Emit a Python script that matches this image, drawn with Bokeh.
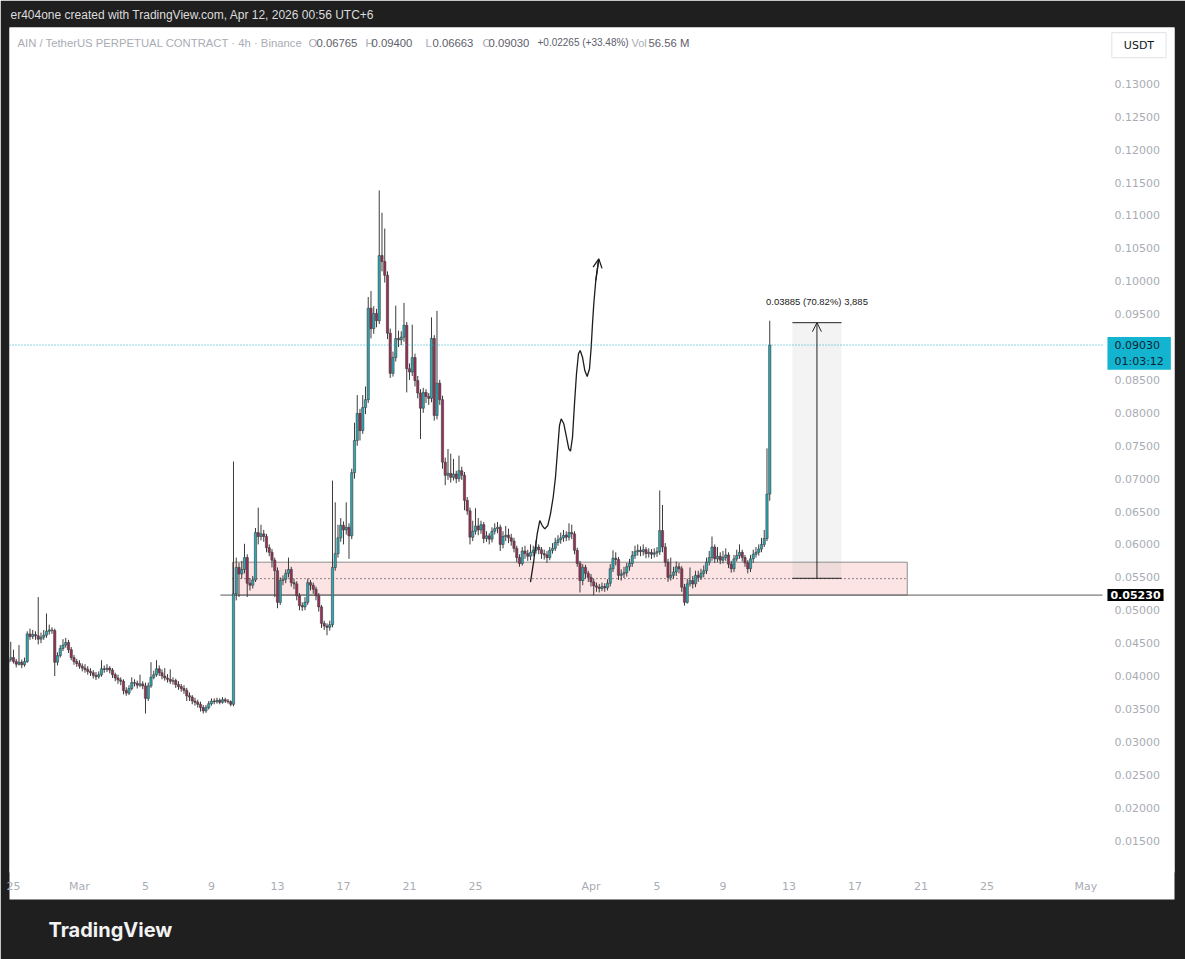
import pandas as pd
from bokeh.plotting import figure
from bokeh.models import (ColumnDataSource, Range1d, FixedTicker, PrintfTickFormatter,
                          Label, Title, Arrow, OpenHead)
from bokeh.embed import file_html
from bokeh.resources import INLINE

# ---------------- data ----------------
FIRST_CANDLE = "2026-02-24 16:00"   # 4h candles
ORIGIN = "2026-03-01 00:00"         # x axis unit: days since this moment
first_open = 0.0421
close = [
    0.0425, 0.0428, 0.0422, 0.0418, 0.0421, 0.0417, 0.0422, 0.0464, 0.0460, 0.0463,
    0.0461, 0.0456, 0.0459, 0.0462, 0.0468, 0.0470, 0.0469, 0.0421, 0.0431, 0.0442,
    0.0447, 0.0451, 0.0440, 0.0428, 0.0422, 0.0419, 0.0415, 0.0412, 0.0410, 0.0407,
    0.0405, 0.0401, 0.0399, 0.0402, 0.0411, 0.0410, 0.0412, 0.0409, 0.0402, 0.0397,
    0.0394, 0.0392, 0.0378, 0.0374, 0.0381, 0.0390, 0.0389, 0.0386, 0.0388, 0.0385,
    0.0366, 0.0385, 0.0398, 0.0402, 0.0411, 0.0405, 0.0400, 0.0397, 0.0395, 0.0392,
    0.0393, 0.0387, 0.0384, 0.0381, 0.0378, 0.0370, 0.0368, 0.0362, 0.0360, 0.0357,
    0.0352, 0.0347, 0.0352, 0.0358, 0.0362, 0.0361, 0.0363, 0.0360, 0.0364, 0.0362,
    0.0361, 0.0357, 0.0525, 0.0565, 0.0555, 0.0562, 0.0580, 0.0541, 0.0538, 0.0546,
    0.0618, 0.0612, 0.0616, 0.0612, 0.0595, 0.0588, 0.0576, 0.0560, 0.0512, 0.0545,
    0.0547, 0.0556, 0.0562, 0.0542, 0.0540, 0.0522, 0.0507, 0.0505, 0.0512, 0.0542,
    0.0538, 0.0532, 0.0522, 0.0505, 0.0480, 0.0476, 0.0474, 0.0478, 0.0565, 0.0586,
    0.0610, 0.0629, 0.0622, 0.0626, 0.0613, 0.0709, 0.0758, 0.0799, 0.0773, 0.0808,
    0.0820, 0.0959, 0.0928, 0.0951, 0.0940, 0.1039, 0.1030, 0.1009, 0.0921, 0.0860,
    0.0884, 0.0913, 0.0911, 0.0915, 0.0933, 0.0867, 0.0862, 0.0884, 0.0849, 0.0830,
    0.0807, 0.0831, 0.0825, 0.0822, 0.0913, 0.0796, 0.0845, 0.0820, 0.0725, 0.0705,
    0.0708, 0.0702, 0.0707, 0.0700, 0.0712, 0.0705, 0.0667, 0.0651, 0.0611, 0.0620,
    0.0628, 0.0622, 0.0630, 0.0609, 0.0613, 0.0608, 0.0620, 0.0624, 0.0626, 0.0600,
    0.0612, 0.0614, 0.0610, 0.0605, 0.0594, 0.0580, 0.0571, 0.0590, 0.0586, 0.0582,
    0.0588, 0.0591, 0.0596, 0.0592, 0.0586, 0.0584, 0.0580, 0.0591, 0.0594, 0.0603,
    0.0607, 0.0610, 0.0614, 0.0611, 0.0618, 0.0616, 0.0591, 0.0571, 0.0545, 0.0565,
    0.0556, 0.0550, 0.0543, 0.0537, 0.0535, 0.0533, 0.0536, 0.0534, 0.0541, 0.0563,
    0.0579, 0.0577, 0.0553, 0.0555, 0.0557, 0.0566, 0.0571, 0.0583, 0.0589, 0.0591,
    0.0589, 0.0592, 0.0586, 0.0588, 0.0585, 0.0587, 0.0589, 0.0621, 0.0596, 0.0573,
    0.0550, 0.0553, 0.0558, 0.0566, 0.0563, 0.0535, 0.0512, 0.0540, 0.0545, 0.0540,
    0.0553, 0.0550, 0.0556, 0.0560, 0.0573, 0.0580, 0.0596, 0.0578, 0.0582, 0.0576,
    0.0580, 0.0584, 0.0570, 0.0563, 0.0578, 0.0583, 0.0588, 0.0580, 0.0572, 0.0563,
    0.0578, 0.0585, 0.0588, 0.0593, 0.0600, 0.0609, 0.06765, 0.0903,
]
high = [
    0.0432, 0.0452, 0.0440, 0.0426, 0.0447, 0.0425, 0.0428, 0.0468, 0.0472, 0.0470,
    0.0468, 0.0520, 0.0466, 0.0470, 0.0495, 0.0478, 0.0474, 0.0472, 0.0436, 0.0447,
    0.0456, 0.0458, 0.0455, 0.0444, 0.0432, 0.0426, 0.0424, 0.0419, 0.0418, 0.0415,
    0.0412, 0.0409, 0.0406, 0.0407, 0.0424, 0.0416, 0.0418, 0.0415, 0.0412, 0.0405,
    0.0402, 0.0398, 0.0395, 0.0383, 0.0386, 0.0398, 0.0395, 0.0393, 0.0402, 0.0392,
    0.0390, 0.0390, 0.0421, 0.0408, 0.0424, 0.0416, 0.0410, 0.0412, 0.0403, 0.0410,
    0.0398, 0.0396, 0.0392, 0.0388, 0.0386, 0.0382, 0.0375, 0.0371, 0.0367, 0.0364,
    0.0361, 0.0356, 0.0356, 0.0362, 0.0366, 0.0366, 0.0367, 0.0366, 0.0368, 0.0367,
    0.0365, 0.0363, 0.0726, 0.0580, 0.0572, 0.0575, 0.0601, 0.0585, 0.0549, 0.0552,
    0.0625, 0.0656, 0.0630, 0.0622, 0.0616, 0.0600, 0.0593, 0.0580, 0.0565, 0.0550,
    0.0553, 0.0562, 0.0580, 0.0566, 0.0548, 0.0544, 0.0526, 0.0512, 0.0520, 0.0548,
    0.0546, 0.0542, 0.0536, 0.0526, 0.0508, 0.0484, 0.0480, 0.0484, 0.0697, 0.0664,
    0.0630, 0.0640, 0.0635, 0.0664, 0.0632, 0.0715, 0.0785, 0.0827, 0.0806, 0.0827,
    0.0840, 0.0976, 0.0985, 0.0962, 0.0958, 0.1138, 0.1104, 0.1080, 0.1015, 0.0928,
    0.0893, 0.0963, 0.0925, 0.0924, 0.0967, 0.0938, 0.0875, 0.0934, 0.0890, 0.0856,
    0.0836, 0.0838, 0.0836, 0.0830, 0.0945, 0.0918, 0.0955, 0.0850, 0.0826, 0.0732,
    0.0745, 0.0738, 0.0730, 0.0712, 0.0735, 0.0718, 0.0710, 0.0672, 0.0656, 0.0636,
    0.0655, 0.0640, 0.0636, 0.0634, 0.0620, 0.0617, 0.0626, 0.0632, 0.0634, 0.0630,
    0.0620, 0.0628, 0.0624, 0.0616, 0.0610, 0.0598, 0.0585, 0.0596, 0.0598, 0.0592,
    0.0600, 0.0598, 0.0606, 0.0600, 0.0596, 0.0592, 0.0590, 0.0596, 0.0602, 0.0610,
    0.0614, 0.0618, 0.0622, 0.0620, 0.0632, 0.0630, 0.0620, 0.0595, 0.0575, 0.0570,
    0.0569, 0.0560, 0.0555, 0.0548, 0.0542, 0.0540, 0.0542, 0.0541, 0.0547, 0.0570,
    0.0591, 0.0588, 0.0581, 0.0562, 0.0566, 0.0572, 0.0578, 0.0590, 0.0598, 0.0600,
    0.0597, 0.0600, 0.0596, 0.0594, 0.0593, 0.0594, 0.0596, 0.0682, 0.0660, 0.0602,
    0.0578, 0.0580, 0.0566, 0.0574, 0.0572, 0.0567, 0.0540, 0.0548, 0.0565, 0.0552,
    0.0560, 0.0560, 0.0563, 0.0568, 0.0580, 0.0590, 0.0612, 0.0600, 0.0596, 0.0588,
    0.0590, 0.0594, 0.0588, 0.0575, 0.0584, 0.0592, 0.0600, 0.0592, 0.0584, 0.0576,
    0.0584, 0.0592, 0.0596, 0.0600, 0.0610, 0.0622, 0.0746, 0.0940,
]
low = [
    0.0418, 0.0422, 0.0419, 0.0413, 0.0416, 0.0412, 0.0414, 0.0420, 0.0455, 0.0456,
    0.0455, 0.0448, 0.0450, 0.0455, 0.0458, 0.0463, 0.0464, 0.0400, 0.0416, 0.0428,
    0.0438, 0.0443, 0.0435, 0.0424, 0.0417, 0.0414, 0.0411, 0.0407, 0.0405, 0.0402,
    0.0400, 0.0396, 0.0394, 0.0396, 0.0399, 0.0405, 0.0406, 0.0404, 0.0397, 0.0392,
    0.0388, 0.0386, 0.0372, 0.0370, 0.0371, 0.0378, 0.0384, 0.0381, 0.0383, 0.0380,
    0.0343, 0.0362, 0.0382, 0.0395, 0.0399, 0.0400, 0.0395, 0.0393, 0.0390, 0.0388,
    0.0387, 0.0382, 0.0379, 0.0376, 0.0373, 0.0362, 0.0362, 0.0357, 0.0355, 0.0352,
    0.0346, 0.0343, 0.0344, 0.0349, 0.0355, 0.0357, 0.0358, 0.0357, 0.0358, 0.0359,
    0.0358, 0.0354, 0.0354, 0.0515, 0.0520, 0.0548, 0.0556, 0.0520, 0.0530, 0.0533,
    0.0543, 0.0600, 0.0606, 0.0604, 0.0588, 0.0582, 0.0565, 0.0520, 0.0503, 0.0508,
    0.0538, 0.0541, 0.0550, 0.0536, 0.0532, 0.0515, 0.0500, 0.0499, 0.0500, 0.0508,
    0.0530, 0.0525, 0.0515, 0.0498, 0.0473, 0.0470, 0.0462, 0.0469, 0.0474, 0.0560,
    0.0580, 0.0604, 0.0600, 0.0615, 0.0578, 0.0608, 0.0700, 0.0750, 0.0758, 0.0768,
    0.0798, 0.0815, 0.0913, 0.0920, 0.0930, 0.0935, 0.1015, 0.0998, 0.0912, 0.0853,
    0.0855, 0.0878, 0.0900, 0.0903, 0.0908, 0.0831, 0.0850, 0.0856, 0.0840, 0.0822,
    0.0760, 0.0800, 0.0815, 0.0812, 0.0816, 0.0788, 0.0790, 0.0812, 0.0715, 0.0690,
    0.0698, 0.0694, 0.0697, 0.0693, 0.0695, 0.0698, 0.0652, 0.0645, 0.0600, 0.0605,
    0.0615, 0.0614, 0.0616, 0.0602, 0.0604, 0.0600, 0.0603, 0.0615, 0.0617, 0.0590,
    0.0594, 0.0605, 0.0602, 0.0598, 0.0588, 0.0573, 0.0566, 0.0568, 0.0578, 0.0575,
    0.0576, 0.0582, 0.0586, 0.0585, 0.0578, 0.0577, 0.0572, 0.0576, 0.0586, 0.0590,
    0.0598, 0.0601, 0.0604, 0.0605, 0.0606, 0.0608, 0.0585, 0.0566, 0.0527, 0.0538,
    0.0548, 0.0543, 0.0536, 0.0523, 0.0528, 0.0527, 0.0529, 0.0528, 0.0530, 0.0536,
    0.0558, 0.0568, 0.0546, 0.0545, 0.0549, 0.0551, 0.0560, 0.0566, 0.0578, 0.0583,
    0.0582, 0.0583, 0.0579, 0.0580, 0.0578, 0.0580, 0.0581, 0.0584, 0.0588, 0.0566,
    0.0543, 0.0545, 0.0548, 0.0552, 0.0556, 0.0528, 0.0507, 0.0510, 0.0536, 0.0533,
    0.0535, 0.0543, 0.0546, 0.0550, 0.0555, 0.0568, 0.0575, 0.0572, 0.0573, 0.0570,
    0.0571, 0.0575, 0.0564, 0.0557, 0.0558, 0.0574, 0.0578, 0.0574, 0.0566, 0.0556,
    0.0558, 0.0572, 0.0580, 0.0583, 0.0588, 0.0596, 0.0605, 0.06663,
]

# axis ticks
y_ticks = [0.015, 0.020, 0.025, 0.030, 0.035, 0.040, 0.045, 0.050, 0.055, 0.060,
           0.065, 0.070, 0.075, 0.080, 0.085, 0.095, 0.100, 0.105, 0.110,
           0.115, 0.120, 0.125, 0.130]
x_tick_dates = ["2026-02-25", "2026-03-01", "2026-03-05", "2026-03-09", "2026-03-13",
                "2026-03-17", "2026-03-21", "2026-03-25", "2026-04-01", "2026-04-05",
                "2026-04-09", "2026-04-13", "2026-04-17", "2026-04-21", "2026-04-25",
                "2026-05-01"]
x_tick_labels = ["25", "Mar", "5", "9", "13", "17", "21", "25", "Apr", "5", "9", "13",
                 "17", "21", "25", "May"]

# header / price tags
title_text = "er404one created with TradingView.com, Apr 12, 2026 00:56 UTC+6"
symbol_text = "AIN / TetherUS PERPETUAL CONTRACT · 4h · Binance"
ohlc_keys = ["O", "H", "L", "C"]
ohlc_vals = ["0.06765", "0.09400", "0.06663", "0.09030"]
change_text = "+0.02265 (+33.48%)"
vol_key, vol_val = "Vol", "56.56 M"
currency = "USDT"
last_price = 0.0903
countdown = "01:03:12"
level_price = 0.0523
level_start = "2026-03-09 13:00"

# support zone drawing
zone_start, zone_end = "2026-03-10 06:30", "2026-04-20 04:00"
zone_low, zone_high = 0.0523, 0.0573

# price-range measurement drawing
meas_start, meas_end = "2026-04-13 05:00", "2026-04-16 04:20"
meas_low, meas_high = 0.05485, 0.0937
meas_text = "0.03885 (70.82%) 3,885"

# hand-drawn projection path (days since ORIGIN, price)
path_day = [27.333, 27.533, 27.739, 27.897, 28.042, 28.200, 28.382, 28.545, 28.709,
            28.848, 28.988, 29.091, 29.194, 29.352, 29.515, 29.655, 29.758, 29.879,
            30.000, 30.121, 30.242, 30.345, 30.485, 30.624, 30.770, 30.909, 31.012,
            31.091, 31.170, 31.291, 31.473]
path_price = [0.05426, 0.05755, 0.06161, 0.06363, 0.06287, 0.06237, 0.06287, 0.06465,
              0.06717, 0.07021, 0.07477, 0.07807, 0.07909, 0.07833, 0.07629, 0.07453,
              0.07416, 0.07629, 0.08137, 0.08593, 0.08897, 0.08947, 0.08845, 0.08643,
              0.08552, 0.08669, 0.08997, 0.09353, 0.09657, 0.10011, 0.10340]

# ---------------- helpers ----------------
T0 = pd.Timestamp(ORIGIN)


def d(ts):
    return (pd.Timestamp(ts) - T0) / pd.Timedelta(days=1)


times = pd.date_range(FIRST_CANDLE, periods=len(close), freq="4h")
xday = [d(t) for t in times]
opens = [first_open] + close[:-1]
UP_FILL, DN_FILL, EDGE = "#28aab7", "#9a2d55", "#3c3c3c"
fills = [UP_FILL if c >= o else DN_FILL for o, c in zip(opens, close)]
src = ColumnDataSource(dict(x=xday, open=opens, close=close, high=high, low=low, fill=fills))

X0, X1 = -4.242, 66.364          # visible time window (days since ORIGIN)
SCALE_X = 62.0                   # where the price scale column starts
TAG_X = 62.30                    # left edge of the price tags
DARK = "#1f1f1f"

# ---------------- figure ----------------
p = figure(width=1185, height=959, output_backend="svg", toolbar_location=None,
           x_range=Range1d(X0, X1), y_range=Range1d(0.01029, 0.13856),
           y_axis_location="right", min_border_left=9, min_border_right=11,
           min_border_top=27, min_border_bottom=88)
p.background_fill_color = "white"
p.border_fill_color = DARK
p.outline_line_color = None
p.grid.visible = False

p.title.text = title_text
p.title.text_font = "Liberation Sans"
p.title.text_font_size = "12px"
p.title.text_font_style = "normal"
p.title.text_color = "#dcdcdc"
p.title.align = "left"
p.title.offset = 1
p.title.standoff = 11

AX_COLOR = "#a9acb4"
for ax in (p.xaxis[0], p.yaxis[0]):
    ax.major_tick_line_color = None
    ax.minor_tick_line_color = None
    ax.major_tick_out = 0
    ax.minor_tick_out = 0
    ax.major_tick_in = 0
    ax.minor_tick_in = 0
    ax.major_label_text_font = "DejaVu Sans"
    ax.major_label_text_font_size = "11px"
    ax.major_label_text_color = AX_COLOR

# price scale drawn inside the right-hand column of the white panel
p.yaxis.axis_line_color = None
p.yaxis.ticker = FixedTicker(ticks=y_ticks)
p.yaxis.formatter = PrintfTickFormatter(format="%.5f")
p.yaxis.major_label_standoff = -60

x_tick_days = [int(round(d(t))) for t in x_tick_dates]
p.xaxis.ticker = FixedTicker(ticks=x_tick_days)
p.xaxis.major_label_overrides = {k: v for k, v in zip(x_tick_days, x_tick_labels)}
p.xaxis.major_label_standoff = 8
p.xaxis.axis_line_color = "white"
p.xaxis.axis_line_width = 2
p.xaxis.background_fill_color = "white"
p.xaxis.axis_label = " "
p.xaxis.axis_label_text_font_size = "1px"
p.xaxis.axis_label_standoff = 0

p.add_layout(Title(text="TradingView", align="left", offset=39, standoff=33,
                   text_font="Inter", text_font_size="20px", text_font_style="bold",
                   text_color="#f2f2f2"), "below")

# support zone
p.quad(left=[d(zone_start)], right=[d(zone_end)], bottom=[zone_low], top=[zone_high],
       fill_color="#f9c9c9", fill_alpha=0.5, line_color="#8d8d8d", line_width=1)
p.segment(x0=[d(zone_start)], x1=[d(zone_end)], y0=[(zone_low + zone_high) / 2],
          y1=[(zone_low + zone_high) / 2], line_color="#222222", line_dash="1 3", line_width=1)
p.segment(x0=[d(level_start)], x1=[SCALE_X], y0=[level_price], y1=[level_price],
          line_color="#5a5a5a", line_width=1)

# candles
p.segment(x0="x", y0="low", x1="x", y1="high", source=src, line_color=EDGE, line_width=1)
p.vbar(x="x", width=0.82 / 6, top="open", bottom="close", source=src,
       fill_color="fill", line_color=EDGE, line_width=0.6)

# measurement
p.quad(left=[d(meas_start)], right=[d(meas_end)], bottom=[meas_low], top=[meas_high],
       fill_color="#9e9e9e", fill_alpha=0.12, line_color=None)
p.segment(x0=[d(meas_start)] * 2, x1=[d(meas_end)] * 2, y0=[meas_low, meas_high],
          y1=[meas_low, meas_high], line_color="#222222", line_width=1)
mid = (d(meas_start) + d(meas_end)) / 2
p.add_layout(Arrow(end=OpenHead(size=9, line_color="#222222", line_width=1),
                   x_start=mid, y_start=meas_low, x_end=mid, y_end=meas_high,
                   line_color="#222222", line_width=1))
p.add_layout(Label(x=mid, y=meas_high, y_offset=21, text=meas_text, text_align="center",
                   text_baseline="middle", text_font="Liberation Sans",
                   text_font_size="9.5px", text_color="#222222"))

# hand-drawn path
p.line(path_day, path_price, line_color="#1c1c1c", line_width=1.3)
p.add_layout(Arrow(end=OpenHead(size=9, line_color="#1c1c1c", line_width=1.3),
                   x_start=path_day[-2], y_start=path_price[-2],
                   x_end=path_day[-1], y_end=path_price[-1],
                   line_color="#1c1c1c", line_width=1.3))

# last price line
p.segment(x0=[X0], x1=[SCALE_X], y0=[last_price], y1=[last_price], line_color="#1ba9c4",
          line_dash="1 2", line_width=1)

# header inside the chart
HEAD_Y = 0.13628
KEY_C, VAL_C = "#a9acb4", "#5d606b"
head = [(-3.758, symbol_text, KEY_C, "11.3px")]
key_x = [13.879, 17.333, 20.970, 24.424]
val_x = [14.364, 17.697, 21.394, 24.788]
for k, kx, v, vx in zip(ohlc_keys, key_x, ohlc_vals, val_x):
    head.append((kx, k, KEY_C, "11.3px"))
    head.append((vx, v, VAL_C, "11.3px"))
head.append((27.758, change_text, VAL_C, "10px"))
head.append((33.455, vol_key, KEY_C, "11px"))
head.append((34.485, vol_val, VAL_C, "11.3px"))
for hx, ht, hc, hs in head:
    p.add_layout(Label(x=hx, y=HEAD_Y, text=ht, text_align="left", text_baseline="middle",
                       text_font="Liberation Sans", text_font_size=hs, text_color=hc))

# price-scale tags
p.add_layout(Label(x=64.21, y=0.13587, text=currency, text_align="center",
                   text_baseline="middle", text_font="DejaVu Sans", text_font_size="11px",
                   text_color="#131722", background_fill_color="white",
                   border_line_color="#dfe1e6",
                   padding=dict(left=12, right=12, top=6, bottom=6)))
p.add_layout(Label(x=TAG_X, y=last_price, y_offset=8, text=f"{last_price:.5f}\n{countdown}",
                   text_align="left", text_baseline="top", text_font="DejaVu Sans",
                   text_font_size="11px", text_color="#0d2433",
                   background_fill_color="#12b4d0",
                   padding=dict(left=7, right=7, top=2, bottom=2)))
p.add_layout(Label(x=TAG_X, y=level_price, text=f"{level_price:.5f}", text_align="left",
                   text_baseline="middle", text_font="DejaVu Sans", text_font_size="11px",
                   text_font_style="bold", text_color="white",
                   background_fill_color="black",
                   padding=dict(left=3, right=3, top=2, bottom=2)))

open("out.html", "w").write(file_html(p, INLINE))
